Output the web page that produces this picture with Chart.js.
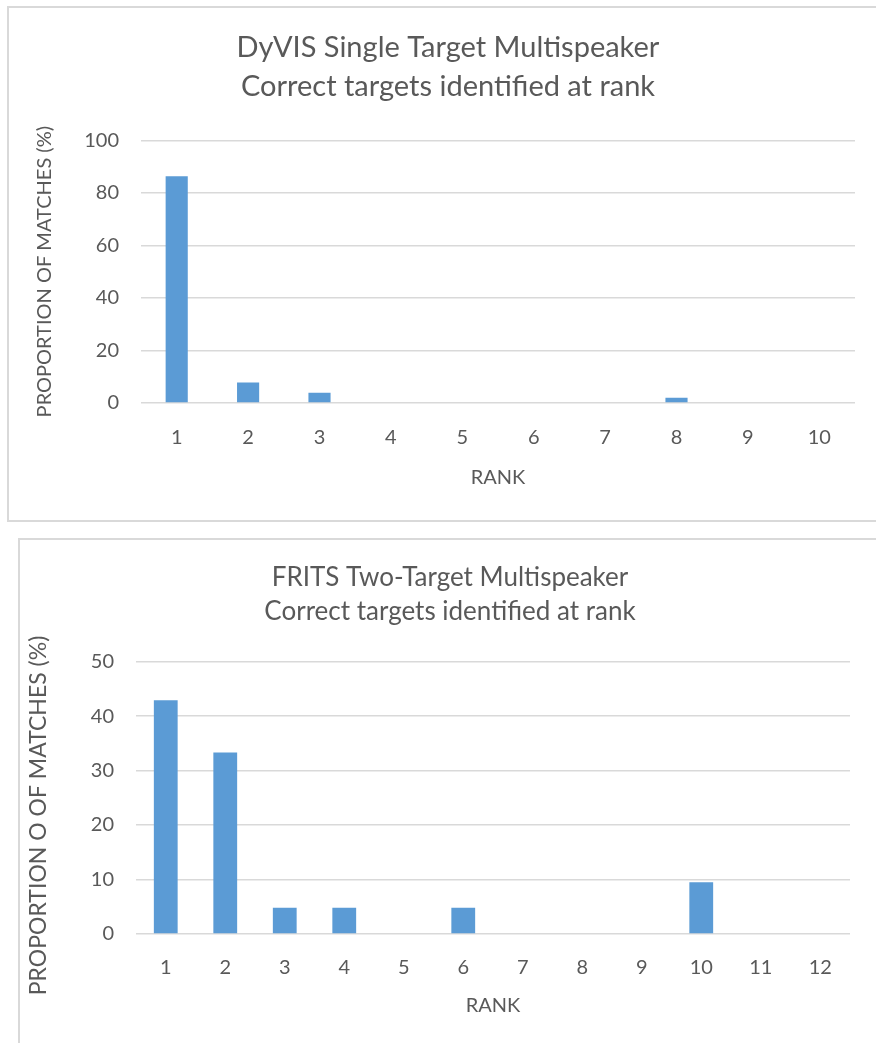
<!DOCTYPE html>
<html>
<head>
<meta charset="utf-8">
<script src="https://cdn.jsdelivr.net/npm/chart.js@4"></script>
<style>
  body { margin: 0; background: #ffffff; overflow: hidden; }
  .frame { position: absolute; border: 2px solid #d9d9d9; background: #ffffff; }
  #frame1 { left: 7px; top: 6px; width: 880px; height: 512px; }
  #frame2 { left: 18px; top: 538px; width: 870px; height: 520px; }
  canvas { display: block; }
</style>
</head>
<body>
<div class="frame" id="frame1"><canvas id="chart1" width="880" height="512"></canvas></div>
<div class="frame" id="frame2"><canvas id="chart2" width="870" height="520"></canvas></div>
<script>
// Graphique 1 : DyVIS
const ranks1 = ['1', '2', '3', '4', '5', '6', '7', '8', '9', '10'];
const values1 = [86.3, 7.8, 3.9, 0, 0, 0, 0, 2.0, 0, 0];
const ticks1 = [0, 20, 40, 60, 80, 100];

// Graphique 2 : FRITS
const ranks2 = ['1', '2', '3', '4', '5', '6', '7', '8', '9', '10', '11', '12'];
const values2 = [42.9, 33.3, 4.8, 4.8, 0, 4.8, 0, 0, 0, 9.5, 0, 0];
const ticks2 = [0, 10, 20, 30, 40, 50];

const FONT = 'Lato, "Open Sans", sans-serif';
const TEXT = '#595959';
const GRID = '#d9d9d9';
const BAR = '#5b9bd5';

Chart.defaults.font.family = FONT;
Chart.defaults.color = TEXT;

function makeChart(id, opts) {
    return new Chart(document.getElementById(id), {
        type: 'bar',
        data: {
            labels: opts.labels,
            datasets: [{
                data: opts.values,
                backgroundColor: BAR,
                borderWidth: 0,
                categoryPercentage: 1,
                barPercentage: opts.barPct
            }]
        },
        options: {
            responsive: false,
            animation: false,
            layout: { padding: opts.padding },
            plugins: {
                legend: { display: false },
                tooltip: { enabled: false },
                title: {
                    display: true,
                    text: opts.title,
                    color: TEXT,
                    font: { size: opts.titleSize, weight: 'normal', lineHeight: opts.titleLine },
                    padding: opts.titlePad
                }
            },
            scales: {
                x: {
                    grid: { display: false },
                    border: { display: false },
                    ticks: { color: TEXT, font: { size: 20 }, padding: opts.xTickPad },
                    title: {
                        display: true,
                        text: 'RANK',
                        color: TEXT,
                        font: { size: 20 },
                        padding: { top: opts.xTitlePad }
                    }
                },
                y: {
                    min: 0,
                    max: opts.ticks[opts.ticks.length - 1],
                    afterBuildTicks: function(scale) {
                        scale.ticks = opts.ticks.map(v => ({ value: v }));
                    },
                    afterFit: function(scale) {
                        scale.width = opts.yWidth;
                    },
                    grid: { color: GRID, lineWidth: 1.5, drawTicks: false },
                    border: { display: false },
                    ticks: { color: TEXT, font: { size: 20 }, padding: 22 },
                    title: {
                        display: true,
                        text: opts.yTitle,
                        color: TEXT,
                        font: { size: opts.yTitleSize },
                        padding: 0
                    }
                },
                // axe vide à droite, pour recentrer le titre
                right: {
                    position: 'right',
                    display: true,
                    grid: { display: false },
                    border: { display: false },
                    ticks: { display: false },
                    afterFit: function(scale) {
                        scale.width = opts.rightWidth;
                    }
                }
            }
        }
    });
}

makeChart('chart1', {
    labels: ranks1,
    values: values1,
    ticks: ticks1,
    barPct: 0.31,
    title: ['DyVIS Single Target Multispeaker', 'Correct targets identified at rank'],
    titleSize: 29,
    titleLine: 1.35,
    titlePad: { top: 20, bottom: 34 },
    yTitle: 'PROPORTION OF MATCHES (%)',
    yTitleSize: 20,
    yWidth: 108,
    rightWidth: 8,
    xTickPad: 15,
    xTitlePad: 1,
    padding: { left: 24, right: 26, top: 0, bottom: 26 }
});

makeChart('chart2', {
    labels: ranks2,
    values: values2,
    ticks: ticks2,
    barPct: 0.40,
    title: ['FRITS Two-Target Multispeaker', 'Correct targets identified at rank'],
    titleSize: 26,
    titleLine: 1.3,
    titlePad: { top: 21, bottom: 33 },
    yTitle: 'PROPORTION O OF MATCHES (%)      ',
    yTitleSize: 23,
    yWidth: 111,
    rightWidth: 25,
    xTickPad: 14,
    xTitlePad: 0,
    padding: { left: 5, right: 15, top: 0, bottom: 38 }
});
</script>
</body>
</html>
